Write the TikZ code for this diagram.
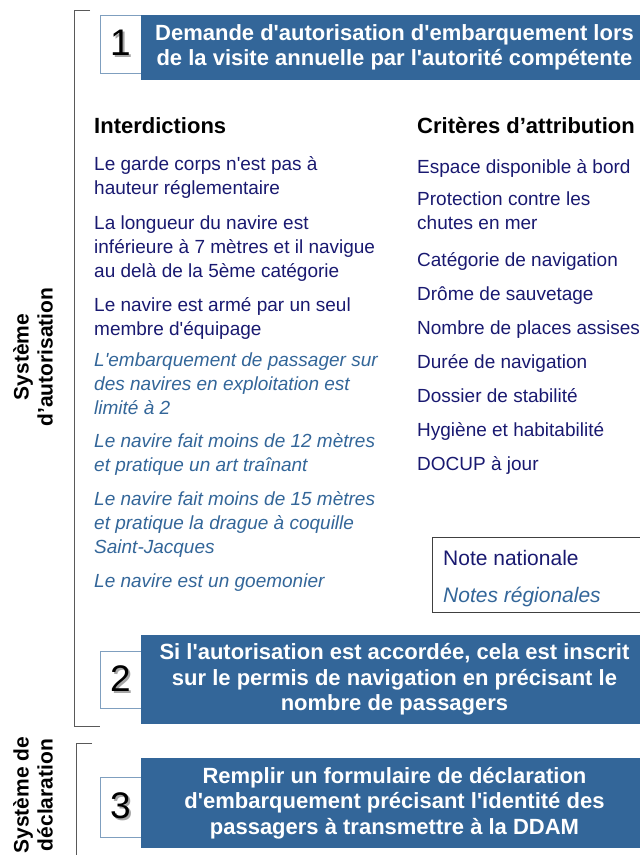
\documentclass[tikz,border=0pt]{standalone}
\usepackage{fontspec}
\setmainfont[Ligatures=TeXOff]{Liberation Sans}
\usepackage{xcolor}
\usepackage{tikz}
\definecolor{boxblue}{RGB}{51,102,153}
\definecolor{navytext}{RGB}{25,25,112}
\definecolor{numframe}{RGB}{127,159,191}
\newcommand{\ombre}[1]{\makebox[0pt][l]{\hspace{1.8pt}\raisebox{-1.8pt}{\color{black!35}#1}}#1}

\tikzset{
  bluebox/.style={fill=boxblue, text=white, align=center, inner sep=0pt,
    font=\fontsize{22}{25.5}\selectfont\bfseries},
  numbox/.style={draw=numframe, fill=white, inner sep=0pt,
    font=\fontsize{37}{37}\selectfont},
  headtxt/.style={anchor=base west, inner sep=0pt, font=\fontsize{22}{24}\selectfont\bfseries},
  itemtxt/.style={anchor=base west, inner sep=0pt, align=left, text=navytext,
    font=\fontsize{19}{24}\selectfont},
  itemital/.style={itemtxt, text=boxblue, font=\fontsize{19}{24}\selectfont\itshape},
  sidelabel/.style={rotate=90, align=center, inner sep=0pt,
    font=\fontsize{21}{24}\selectfont\bfseries},
  bracket/.style={draw=black!65, line width=0.9pt}
}

\begin{document}
\begin{tikzpicture}[x=1pt,y=-1pt]
    \useasboundingbox (0,0) rectangle (640,855);

    % Brackets
    \draw[bracket] (90,10) -- (74,10) -- (74,726) -- (100,726);
    \draw[bracket] (92,743) -- (76,743) -- (76,860);
    \node[sidelabel] (sysaut) at (33,357) {Système\\d’autorisation};
    \node[sidelabel] (sysdecl) at (33,795) {Système de\\déclaration};

    % Step 1
    \node[numbox, minimum width=41, minimum height=58] (num1) at (120.5,44) {\ombre{1}};
    \node[bluebox, minimum width=507, minimum height=65] (etape1) at (394.5,47.5)
      {Demande d'autorisation d'embarquement lors\\de la visite annuelle par l'autorité compétente};

    % Interdictions (base = last line)
    \node[headtxt] (interd) at (94,133) {Interdictions};
    \node[itemtxt] (int1) at (94,194) {Le garde corps n'est pas à\\hauteur réglementaire};
    \node[itemtxt] (int2) at (94,277) {La longueur du navire est\\inférieure à 7 mètres et il navigue\\au delà de la 5ème catégorie};
    \node[itemtxt] (int3) at (94,335) {Le navire est armé par un seul\\membre d'équipage};
    \node[itemital] (int4) at (94,414) {L'embarquement de passager sur\\des navires en exploitation est\\limité à 2};
    \node[itemital] (int5) at (94,471) {Le navire fait moins de 12 mètres\\et pratique un art traînant};
    \node[itemital] (int6) at (94,553) {Le navire fait moins de 15 mètres\\et pratique la drague à coquille\\Saint-Jacques};
    \node[itemital] (int7) at (94,587) {Le navire est un goemonier};

    % Criteres
    \node[headtxt] (crit) at (417,133) {Critères d’attribution};
    \node[itemtxt] (crit1) at (417,173) {Espace disponible à bord};
    \node[itemtxt] (crit2) at (417,229) {Protection contre les\\chutes en mer};
    \node[itemtxt] (crit3) at (417,266) {Catégorie de navigation};
    \node[itemtxt] (crit4) at (417,300) {Drôme de sauvetage};
    \node[itemtxt] (crit5) at (417,334) {Nombre de places assises};
    \node[itemtxt] (crit6) at (417,368) {Durée de navigation};
    \node[itemtxt] (crit7) at (417,402) {Dossier de stabilité};
    \node[itemtxt] (crit8) at (417,436) {Hygiène et habitabilité};
    \node[itemtxt] (crit9) at (417,470) {DOCUP à jour};

    % Legend
    \draw[black!75, line width=0.8pt] (432,537) rectangle (660,612);
    \node[itemtxt, font=\fontsize{21}{24}\selectfont] (natio) at (443,565) {Note nationale};
    \node[itemital, font=\fontsize{21}{24}\selectfont\itshape] (regio) at (443,602) {Notes régionales};

    % Step 2
    \node[numbox, minimum width=41, minimum height=57] (num2) at (120.5,679.5) {\ombre{2}};
    \node[bluebox, minimum width=507, minimum height=89] (etape2) at (394.5,679.5)
      {Si l'autorisation est accordée, cela est inscrit\\sur le permis de navigation en précisant le\\nombre de passagers};

    % Step 3
    \node[numbox, minimum width=41, minimum height=60] (num3) at (120.5,807) {\ombre{3}};
    \node[bluebox, minimum width=507, minimum height=90] (etape3) at (394.5,803)
      {Remplir un formulaire de déclaration\\d'embarquement précisant l'identité des\\passagers à transmettre à la DDAM};

\end{tikzpicture}
\end{document}
